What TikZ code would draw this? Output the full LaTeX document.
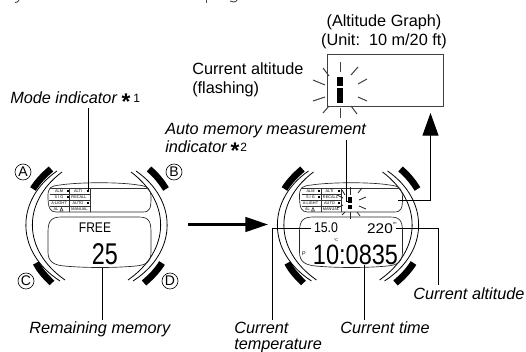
\documentclass[tikz,border=0pt]{standalone}
\usepackage{fontspec}
\setmainfont{Liberation Sans}
\usetikzlibrary{arrows.meta}
\tikzset{
  x=0.75pt,y=-0.75pt,
  lab/.style={inner sep=0pt,font=\fontsize{12.2}{14}\selectfont,anchor=base west},
  ilab/.style={lab,font=\fontsize{12.2}{14}\selectfont\itshape},
  conn/.style={line width=0.75pt,black},
  thin arc/.style={line width=0.6pt,black},
  btn/.style={line width=5pt,black},
  lcdline/.style={line width=0.5pt,black!85},
  grid/.style={line width=0.45pt,black!80},
  tiny/.style={inner sep=0pt,font=\fontsize{2.9}{3}\selectfont},
  circ/.style={circle,draw,line width=0.45pt,inner sep=0pt,minimum size=12pt,font=\fontsize{10.5}{11}\selectfont},
  ray/.style={line width=0.6pt,black!85},
  rayg/.style={line width=0.75pt,black!75},
  lcd/.style={inner sep=0pt},
  sq/.style={fill=black,draw=none},
  big arrow/.style={line width=2pt,black},
  clipped/.style={line width=0.7pt,black!70}
}
\newcommand{\mywatch}[1]{%
\begin{scope}[shift={(#1,0)}]
  \draw[thin arc] (57,171) .. controls (15,200) and (15,252) .. (60,281);
  \draw[thin arc] (62,172) .. controls (22,202) and (22,250) .. (65,280);
  \draw[thin arc] (136,171) .. controls (178,200) and (178,252) .. (133,281);
  \draw[thin arc] (131,172) .. controls (171,202) and (171,250) .. (128,280);
  \draw[btn] (33,189) .. controls (38,181) and (44,175) .. (51,169);
  \draw[btn] (36,263) .. controls (40,271) and (46,277) .. (52,283);
  \draw[btn] (149,169) .. controls (156,175) and (161,181) .. (166,189);
  \draw[btn] (144,283) .. controls (151,277) and (157,271) .. (162,263);
  % upper display
  \draw[lcdline] (48,196) .. controls (48,188) and (50,186) .. (60,185) .. controls (80,182) and (120,182) .. (138,185) .. controls (149,186) and (151,190) .. (151,198) .. controls (151,208) and (150,212) .. (143,212) -- (56,212) .. controls (50,212) and (48,208) .. (48,196) -- cycle;
  \draw[grid] (50,188) -- (148,188);
  \draw[grid] (50,194) -- (90,194) (49,200.5) -- (90,200.5) (50,206.5) -- (90,206.5);
  \draw[grid] (69.5,188) -- (69.5,212) (90,188) -- (90,212);
  \node[tiny] at (59,191) {ALM};
  \node[tiny] at (78,191) {ALTI};
  \node[tiny] at (59,197) {S I G};
  \node[tiny] at (79,197) {RECALL};
  \node[tiny] at (59,203.5) {A-LIGHT};
  \node[tiny] at (78,203.5) {AUTO};
  \node[tiny] at (56,209.5) {AL};
  \node[tiny] at (79.5,209.5) {MANUAL};
  \draw[line width=0.4pt,black!80] (60,211) -- (61.5,207.5) -- (63,211) -- cycle;
  \fill[sq] (66.5,190) rectangle (68.5,192);
  \fill[sq] (86.5,190) rectangle (88.5,192);
  \fill[sq] (66.5,196) rectangle (68.5,198);
  \fill[sq] (86.5,202) rectangle (88.5,204);
  % lower display
  \draw[lcdline] (48,232) .. controls (48,220) and (52,217) .. (62,217) -- (138,217) .. controls (148,217) and (151,220) .. (151,232) -- (151,252) .. controls (151,262) and (146,265) .. (136,266) .. controls (115,268) and (85,268) .. (64,266) .. controls (54,265) and (48,262) .. (48,252) -- cycle;
\end{scope}}
\begin{document}
\begin{tikzpicture}
\useasboundingbox (0,0) rectangle (526,352);
% descenders of the clipped line above
\draw[clipped] (19,0) .. controls (18,2) and (17,2.5) .. (15,2.5);
\draw[clipped] (206,0) -- (206,3);
\draw[clipped] (237,0) .. controls (236,2.5) and (232,2.5) .. (230,1);
\mywatch{0}
\mywatch{251.5}
% circled letters
\node[circ] (kA) at (23,172) {A};
\node[circ] (kB) at (174,172) {B};
\node[circ] (kC) at (26,281) {C};
\node[circ] (kD) at (170,281) {D};
% left LCD
\node[lcd,font=\fontsize{10.5}{11}\selectfont,xscale=0.86] (free) at (95,228) {FREE};
\node[lcd,font=\fontsize{22.5}{23}\selectfont,xscale=0.78] (mem) at (105,254) {25};
% left labels
\node[ilab] (mode) at (10,104) {Mode indicator};
\node[inner sep=0pt,font=\fontsize{17}{17}\selectfont\bfseries] (s1) at (126,102) {*};
\node[lab,font=\fontsize{9}{10}\selectfont] (n1) at (133,103) {1};
\node[ilab] (rem) at (29,334) {Remaining memory};
\coordinate (modeEnd) at (88,191);
\coordinate (modeTop) at (88,108);
\draw[conn] (modeTop) -- (modeEnd);
\coordinate (memA) at (102,268);
\coordinate (memB) at (102,320);
\draw[conn] (memA) -- (memB);
% big arrow
\coordinate (bigA) at (188,224.5);
\coordinate (bigB) at (268,224.5);
\draw[big arrow,-{Triangle[length=17pt,width=11pt]}] (bigA) -- (bigB);
% graph box
\node[draw=black!75,line width=0.75pt,minimum width=87pt,minimum height=39pt,inner sep=0pt] (graph) at (385,81) {};
\fill[sq] (337,77) rectangle (343,86);
\fill[sq] (337,88) rectangle (343,103);
\draw[rayg] (340,62) -- (340,72);
\draw[rayg] (323,68) -- (329,76);
\draw[rayg] (351,75) -- (358,67);
\draw[rayg] (313,80) -- (325,85);
\draw[rayg] (358,84) -- (367,79);
\draw[rayg] (313,101) -- (325,97);
\draw[rayg] (358,97) -- (367,101);
\draw[rayg] (323,113) -- (329,106);
\draw[rayg] (351,106) -- (357,114);
\draw[rayg] (340,108) -- (340,118);
\node[lab,anchor=base] (t1) at (384,27) {(Altitude Graph)};
\node[lab,anchor=base] (t2) at (384,46) {(Unit:\ \ 10 m/20 ft)};
\node[lab] (t3) at (192,75) {Current altitude};
\node[lab] (t4) at (192,94) {(flashing)};
\node[ilab] (t5) at (165,135) {Auto memory measurement};
\node[ilab] (t6) at (165,153) {indicator};
\node[inner sep=0pt,font=\fontsize{17}{17}\selectfont\bfseries] (s2) at (235,151) {*};
\node[lab,font=\fontsize{9}{10}\selectfont] (n2) at (240,152) {2};
% right watch indicator
\fill[sq] (348,197) rectangle (352,203);
\fill[sq] (348,205) rectangle (352,209);
\draw[ray] (350,187) -- (350,195);
\draw[ray] (342,190) -- (345,195);
\draw[ray] (358,193) -- (362,188);
\draw[ray] (337,195) -- (343,198);
\draw[ray] (359,200) -- (366,197);
\draw[ray] (337,208) -- (343,205);
\draw[ray] (359,206) -- (366,209);
\draw[ray] (342,215) -- (345,212);
\draw[ray] (357,212) -- (360,216);
\draw[ray] (350,212) -- (350,219);
% right LCD
\node[lcd,font=\fontsize{10.5}{11}\selectfont,xscale=0.88] (temp) at (326,228) {15.0};
\node[lcd,font=\fontsize{10.5}{11}\selectfont,xscale=1.1] (alt) at (380,229) {220};
\node[tiny] (um) at (395,223) {m};
\node[tiny] (uc) at (336,240) {°C};
\node[tiny,font=\fontsize{4}{4}\selectfont] (pm) at (304,254) {P};
\node[lcd,font=\fontsize{21}{22}\selectfont,xscale=0.84] (time) at (355.5,255) {10:0835};
% right connectors
\coordinate (autoTop) at (346.5,140);
\coordinate (autoEnd) at (346.5,202);
\draw[conn] (autoTop) -- (autoEnd) -- (348,202);
\coordinate (graphFrom) at (398,200.5);
\coordinate (graphCorner) at (430.5,200.5);
\coordinate (graphTip) at (430.5,113);
\draw[conn,-{Triangle[length=17pt,width=12pt]}] (graphFrom) -- (graphCorner) -- (graphTip);
\coordinate (tempA) at (311,229);
\coordinate (tempB) at (272,229);
\coordinate (tempC) at (272,320);
\draw[conn] (tempA) -- (tempB) -- (tempC);
\coordinate (altA) at (396,229);
\coordinate (altB) at (438,229);
\coordinate (altC) at (438,285);
\draw[conn] (altA) -- (altB) -- (altC);
\coordinate (timeA) at (364,265);
\coordinate (timeB) at (364,320);
\draw[conn] (timeA) -- (timeB);
\node[ilab] (l1) at (413,300) {Current altitude};
\node[ilab] (l2) at (340,334) {Current time};
\node[ilab] (l3) at (234,334) {Current};
\node[ilab] (l4) at (234,350) {temperature};
\end{tikzpicture}
\end{document}
